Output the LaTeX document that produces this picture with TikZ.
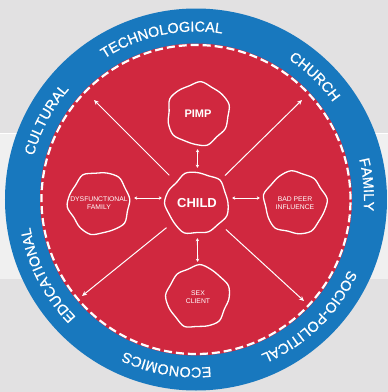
\documentclass[tikz,border=0pt]{standalone}
\usepackage{fontspec}
\setsansfont{Liberation Sans}
\newfontfamily\ringfont[LetterSpace=15, FakeBold=0.8]{Liberation Sans}
\usetikzlibrary{arrows.meta,decorations.text}
\definecolor{ringblue}{HTML}{1878BE}
\definecolor{discred}{HTML}{D0283F}
\definecolor{bggray}{HTML}{E2E1E2}
\definecolor{bandgray}{HTML}{F0F0F0}
\newcommand{\tagfont}{\fontsize{6.8}{8.3}\selectfont\sffamily}
% wobbly outline round a node
\newcommand{\blob}[2]{%
  \draw[blobline, shift={(#1.center)}, rotate=#2] plot[smooth cycle, tension=0.55]
    coordinates {(0:31) (22:30) (45:32.5) (67:29.5) (90:30.5) (112:32) (135:29) (157:31)
                 (180:32.5) (202:30) (225:30.5) (247:32.5) (270:29.5) (292:31) (315:30) (337:32.5)};}

\begin{document}
\begin{tikzpicture}[x=1pt, y=1pt,
  blobline/.style={white, line width=1.3pt},
  actor/.style={circle, minimum size=62pt, inner sep=0pt, text=white, align=center, font=\tagfont},
  pair/.style={white, line width=0.9pt, {Stealth[length=3pt,width=3.5pt]}-{Stealth[length=3pt,width=3.5pt]}, shorten <=4pt, shorten >=4pt},
  spoke/.style={white, line width=1pt, -{Stealth[length=5pt,width=4.5pt]}, shorten <=8pt},
  ringtext/.style={decorate, decoration={text along path, text/.expanded={|\noexpand\Large\noexpand\ringfont|#1},
    text align=center, text color=white}}]
\useasboundingbox (-196,-192.5) rectangle (192,199.5);
% backdrop
\fill[bggray] (-196,-192.5) rectangle (192,199.5);
\fill[bandgray] (-196,-79.5) rectangle (192,66.5);
\draw[white, line width=1pt] (-196,66.5) -- (192,66.5);
% rings
\fill[ringblue] (0,0) circle (191);
\fill[discred] (0,0) circle (156);
\draw[white, line width=2.2pt, dash pattern=on 8pt off 4pt] (0,0) circle (154.5);
\foreach \ang/\word in {152/CULTURAL, 102/TECHNOLOGICAL, 46/CHURCH, 5/FAMILY,
                        -46/SOCIO-POLITICAL, -100/ECONOMICS, -153/EDUCATIONAL}
  \path[ringtext=\word] ({\ang+70}:168) arc[start angle={\ang+70}, end angle={\ang-70}, radius=168];
% actors
\node[actor, font=\fontsize{13}{13}\selectfont\sffamily\bfseries] (child) at (1,-3.5) {CHILD};
\node[actor, font=\fontsize{11}{11}\selectfont\sffamily\bfseries] (pimp) at (2,85.5) {PIMP};
\node[actor] (family) at (-97,-3.5) {DYSFUNCTIONAL\\FAMILY};
\node[actor] (peer) at (99,-3.5) {BAD PEER\\INFLUENCE};
\node[actor] (client) at (2,-97.5) {SEX\\CLIENT};
\blob{child}{0}
\blob{pimp}{40}
\blob{family}{75}
\blob{peer}{120}
\blob{client}{200}
\draw[pair] (pimp) -- (child);
\draw[pair] (child) -- (client);
\draw[pair] ([yshift=5pt]family.east) -- ([yshift=5pt]child.west);
\draw[pair] ([yshift=5pt]child.east) -- ([yshift=5pt]peer.west);
% outward pulls
\coordinate (nw) at (-102,99.5);
\coordinate (ne) at (106,99.5);
\coordinate (sw) at (-114,-96.5);
\coordinate (se) at (108,-101.5);
\foreach \tip in {nw,ne,sw,se}
  \draw[spoke] (child) -- (\tip);
\end{tikzpicture}
\end{document}
